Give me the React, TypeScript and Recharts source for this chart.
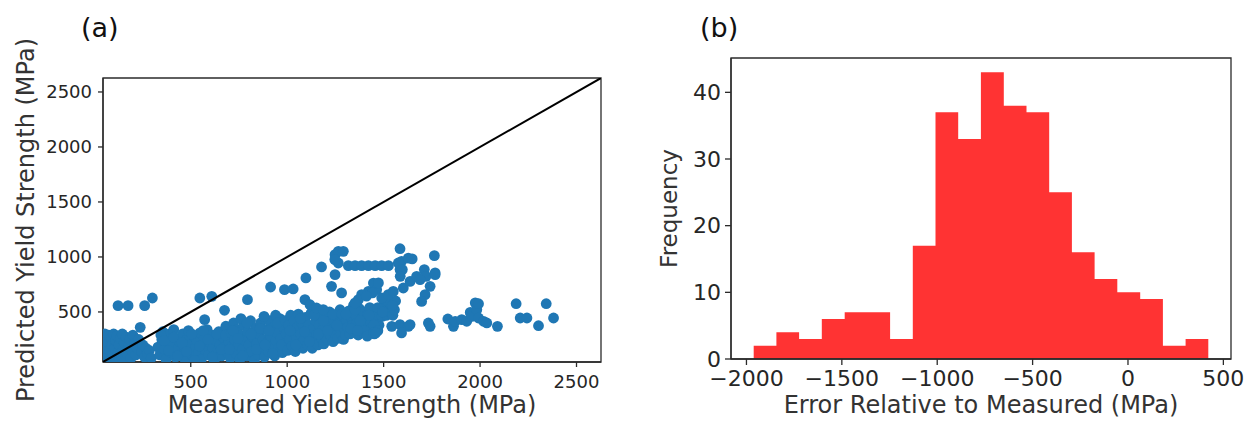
import React from "react";
import {
  Area,
  ComposedChart,
  ReferenceArea,
  Scatter,
  ScatterChart,
  XAxis,
  YAxis,
} from "recharts";

// (a) measured vs predicted yield strength, MPa: [measured, predicted]
const lowCluster: [number, number][] = [
  [55, 300], [60, 250], [62, 180], [65, 120], [68, 80], [72, 220], [75, 290], [80, 150],
  [85, 60], [88, 260], [92, 200], [95, 110], [100, 300], [105, 170], [110, 240], [112, 70],
  [118, 280], [122, 130], [128, 200], [135, 260], [140, 90], [145, 300], [150, 160], [155, 220],
  [160, 60], [165, 270], [170, 120], [178, 190], [185, 250], [190, 80], [195, 150], [200, 290],
  [208, 210], [215, 110], [222, 170], [230, 250], [238, 360], [245, 140], [252, 200], [260, 90],
  [268, 170], [275, 120], [285, 150], [295, 80],
];

const bandLeft: [number, number][] = [
  [330, 180], [340, 110], [350, 250], [355, 320], [365, 160], [372, 70], [380, 230], [390, 300],
  [398, 130], [405, 200], [412, 340], [420, 90], [428, 260], [435, 170], [442, 230], [450, 120],
  [458, 300], [465, 190], [472, 60], [480, 250], [488, 330], [495, 150], [502, 210], [510, 100],
  [518, 280], [525, 180], [532, 240], [540, 130], [548, 310], [555, 70], [562, 200], [570, 260],
  [578, 150], [585, 340], [592, 110], [600, 220], [608, 290], [615, 170], [622, 60], [630, 240],
  [638, 140], [645, 320], [652, 200], [660, 100], [668, 270], [675, 180], [682, 370], [690, 130],
  [698, 230], [345, 290], [362, 240], [385, 150], [410, 270], [432, 100], [455, 220], [478, 140],
  [505, 300], [520, 60], [545, 190], [565, 330], [590, 250], [612, 90], [635, 300], [658, 160],
  [680, 290],
];

const bandMid: [number, number][] = [
  [705, 80], [710, 310], [715, 190], [722, 400], [728, 250], [735, 120], [740, 340], [748, 200],
  [755, 70], [760, 290], [768, 160], [775, 380], [782, 240], [790, 100], [795, 320], [802, 200],
  [810, 420], [815, 140], [822, 270], [830, 60], [835, 350], [842, 210], [850, 110], [855, 300],
  [862, 400], [868, 170], [875, 250], [882, 90], [888, 340], [895, 220], [902, 140], [908, 420],
  [915, 280], [922, 190], [928, 360], [935, 100], [942, 240], [948, 310], [955, 170], [962, 440],
  [968, 260], [975, 130], [982, 360], [988, 210], [995, 300], [760, 440], [880, 460], [940, 470],
  [700, 160], [720, 330], [745, 260], [770, 100], [792, 400], [812, 300], [840, 160], [860, 350],
  [885, 200], [905, 330], [925, 120], [950, 400], [972, 200], [990, 420],
  [1002, 150], [1008, 380], [1012, 250], [1018, 470], [1025, 190], [1030, 320], [1036, 420],
  [1042, 140], [1048, 270], [1052, 360], [1058, 480], [1064, 210], [1070, 300], [1076, 400],
  [1082, 170], [1088, 250], [1094, 450], [1100, 330], [1106, 200], [1112, 380], [1118, 280],
  [1124, 490], [1130, 170], [1136, 350], [1142, 240], [1148, 420], [1154, 300], [1160, 200],
  [1166, 380], [1172, 470], [1178, 260], [1184, 340], [1190, 210], [1196, 430], [1202, 300],
  [1208, 250], [1214, 380], [1220, 500], [1226, 280], [1232, 340], [1238, 230], [1244, 420],
  [1250, 300], [1256, 470], [1262, 260], [1268, 360], [1274, 520], [1280, 300], [1286, 410],
  [1292, 250], [1298, 350], [1015, 330], [1045, 200], [1068, 440], [1090, 320], [1115, 230],
  [1140, 470], [1162, 300], [1188, 420], [1210, 330], [1236, 480], [1258, 380], [1284, 480],
];

const bandRight: [number, number][] = [
  [1302, 290], [1308, 420], [1314, 360], [1320, 510], [1326, 300], [1332, 450], [1338, 380],
  [1344, 560], [1350, 320], [1356, 470], [1362, 400], [1368, 290], [1374, 530], [1380, 350],
  [1386, 440], [1392, 310], [1398, 500], [1404, 380], [1410, 420], [1416, 470], [1422, 330],
  [1428, 540], [1434, 400], [1440, 360], [1446, 460], [1452, 300], [1460, 420], [1468, 480],
  [1476, 380], [1484, 520], [1492, 460], [1500, 560], [1508, 500], [1516, 470], [1524, 540],
  [1532, 580], [1540, 500], [1548, 470], [1556, 520], [1562, 600], [1305, 480], [1330, 350],
  [1352, 520], [1378, 420], [1400, 330], [1425, 470], [1450, 380], [1470, 540], [1495, 500],
  [1520, 600], [1545, 560], [1470, 330], [1415, 280], [1365, 330],
];

const scattered: [number, number][] = [
  [123, 557], [175, 557], [261, 557], [301, 627], [547, 627], [609, 642], [572, 430], [675, 515],
  [794, 612], [914, 727], [986, 703], [1031, 709], [1097, 809], [1092, 612], [1118, 566],
  [1152, 536], [1187, 521], [1178, 909], [1248, 839], [1230, 733], [1282, 673], [1265, 945],
  [1248, 1021], [1265, 1051], [1291, 1051], [1247, 976],
  [1317, 921], [1352, 921], [1386, 921], [1421, 921], [1456, 921], [1490, 921], [1525, 921],
  [1421, 687], [1386, 657], [1369, 612], [1352, 582], [1447, 763], [1464, 703], [1490, 627],
  [1524, 657], [1550, 687], [1602, 718], [1637, 778], [1473, 764], [1442, 673], [1411, 643],
  [1593, 960], [1628, 990], [1585, 885], [1585, 1075], [1576, 945], [1597, 885], [1586, 824],
  [1648, 982], [1763, 1012], [1711, 885], [1767, 855], [1720, 824], [1671, 824], [1689, 794],
  [1741, 733], [1715, 657], [1697, 596], [1767, 839],
  [1447, 309], [1459, 309], [1542, 369], [1585, 385], [1628, 369], [1593, 309], [1637, 385],
  [1732, 400], [1741, 369],
  [1833, 436], [1862, 369], [1871, 415], [1905, 430], [1931, 415], [1949, 496], [1957, 460],
  [1975, 582], [1983, 521], [1992, 575], [1992, 445], [2018, 415], [2035, 400], [2090, 369],
  [2187, 575], [2208, 445], [2243, 445], [2303, 375], [2343, 575], [2381, 445],
];

const strengthTicks = [500, 1000, 1500, 2000, 2500];
const strengthRange = [45, 2627];

// (b) error histogram
const binEdges = [
  -1962, -1843, -1724, -1605, -1485, -1366, -1247, -1128, -1009, -890, -771,
  -651, -532, -413, -294, -175, -56, 64, 183, 302, 421,
];
const binCounts = [2, 4, 3, 6, 7, 7, 3, 17, 37, 33, 43, 38, 37, 25, 16, 12, 10, 9, 2, 3];
const errorTicks = [-2000, -1500, -1000, -500, 0, 500];
const errorRange = [-2081, 540];
const freqTicks = [0, 10, 20, 30, 40];
const freqRange = [0, 45.15];

const points = [...lowCluster, ...bandLeft, ...bandMid, ...bandRight, ...scattered].map(
  ([x, y]) => ({ x, y })
);
const diagonal = strengthRange.map((v) => ({ x: v, y: v }));
const histData = binEdges.map((x, i) => ({
  x,
  count: binCounts[Math.min(i, binCounts.length - 1)],
}));

const font = "DejaVu Sans";
const ink = "#262626";
const spine = "#2b2b2b";
const minus = (v: number) => String(v).replace("-", "\u2212");

const Dot = (props: any) => <circle cx={props.cx} cy={props.cy} r={5.4} fill="#1f77b4" />;
const NoDot = () => <g />;

function StrengthPlot() {
  const tick = { fontSize: 18, fill: ink, fontFamily: font };
  return (
    <ScatterChart
      width={620}
      height={423}
      margin={{ top: 78, right: 19, bottom: 0, left: 0 }}
      style={{ fontFamily: font }}
    >
      <XAxis
        dataKey="x"
        type="number"
        domain={strengthRange}
        ticks={strengthTicks}
        allowDataOverflow
        height={61}
        tickSize={5}
        tickMargin={8}
        tick={tick}
        stroke={spine}
        strokeWidth={1.3}
        label={{
          value: "Measured Yield Strength (MPa)",
          position: "insideBottom",
          offset: 10,
          style: { fontSize: 24, fill: "#333", fontFamily: font },
        }}
      />
      <YAxis
        dataKey="y"
        type="number"
        domain={strengthRange}
        ticks={strengthTicks}
        allowDataOverflow
        width={103}
        tickSize={5}
        tickMargin={6}
        tick={tick}
        stroke={spine}
        strokeWidth={1.3}
        label={{
          value: "Predicted Yield Strength (MPa)",
          angle: -90,
          position: "insideLeft",
          offset: 25,
          style: { fontSize: 24, fill: "#333", fontFamily: font, textAnchor: "middle" },
        }}
      />
      <Scatter data={points} dataKey="y" shape={Dot} isAnimationActive={false} />
      <Scatter
        data={diagonal}
        dataKey="y"
        shape={NoDot}
        line={{ stroke: "#000", strokeWidth: 2 }}
        isAnimationActive={false}
      />
      <ReferenceArea
        x1={strengthRange[0]}
        x2={strengthRange[1]}
        y1={strengthRange[0]}
        y2={strengthRange[1]}
        fill="none"
        stroke={spine}
        strokeWidth={1.3}
      />
    </ScatterChart>
  );
}

function ErrorHistogram() {
  const tick = { fontSize: 22, fill: ink, fontFamily: font };
  return (
    <ComposedChart
      width={626}
      height={423}
      data={histData}
      margin={{ top: 58, right: 15, bottom: 0, left: 0 }}
      style={{ fontFamily: font }}
    >
      <XAxis
        dataKey="x"
        type="number"
        domain={errorRange}
        ticks={errorTicks}
        tickFormatter={minus}
        allowDataOverflow
        height={64}
        tickSize={6}
        tickMargin={5}
        tick={tick}
        stroke={spine}
        strokeWidth={1.3}
        label={{
          value: "Error Relative to Measured (MPa)",
          position: "insideBottom",
          offset: 10,
          style: { fontSize: 24, fill: "#333", fontFamily: font },
        }}
      />
      <YAxis
        type="number"
        domain={freqRange}
        ticks={freqTicks}
        allowDataOverflow
        width={111}
        tickSize={6}
        tickMargin={4}
        tick={tick}
        stroke={spine}
        strokeWidth={1.3}
        label={{
          value: "Frequency",
          angle: -90,
          position: "insideLeft",
          offset: 49,
          style: { fontSize: 23, fill: "#333", fontFamily: font, textAnchor: "middle" },
        }}
      />
      <Area
        type="stepAfter"
        dataKey="count"
        baseValue={0}
        fill="#ff3333"
        fillOpacity={1}
        stroke="none"
        isAnimationActive={false}
      />
      <ReferenceArea
        x1={errorRange[0]}
        x2={errorRange[1]}
        y1={freqRange[0]}
        y2={freqRange[1]}
        fill="none"
        stroke={spine}
        strokeWidth={1.3}
      />
    </ComposedChart>
  );
}

export default function App() {
  return (
    <div style={{ position: "absolute", left: 0, top: 0, width: 1246, height: 423, background: "#fff" }}>
      <div style={{ position: "absolute", left: 0, top: 0 }}>
        <StrengthPlot />
      </div>
      <div style={{ position: "absolute", left: 620, top: 0 }}>
        <ErrorHistogram />
      </div>
      <svg width={1246} height={423} style={{ position: "absolute", left: 0, top: 0, pointerEvents: "none" }}>
        <text x={81} y={37} fontSize={27} fontFamily={font} fill="#111">(a)</text>
        <text x={700} y={37} fontSize={27} fontFamily={font} fill="#111">(b)</text>
      </svg>
    </div>
  );
}
